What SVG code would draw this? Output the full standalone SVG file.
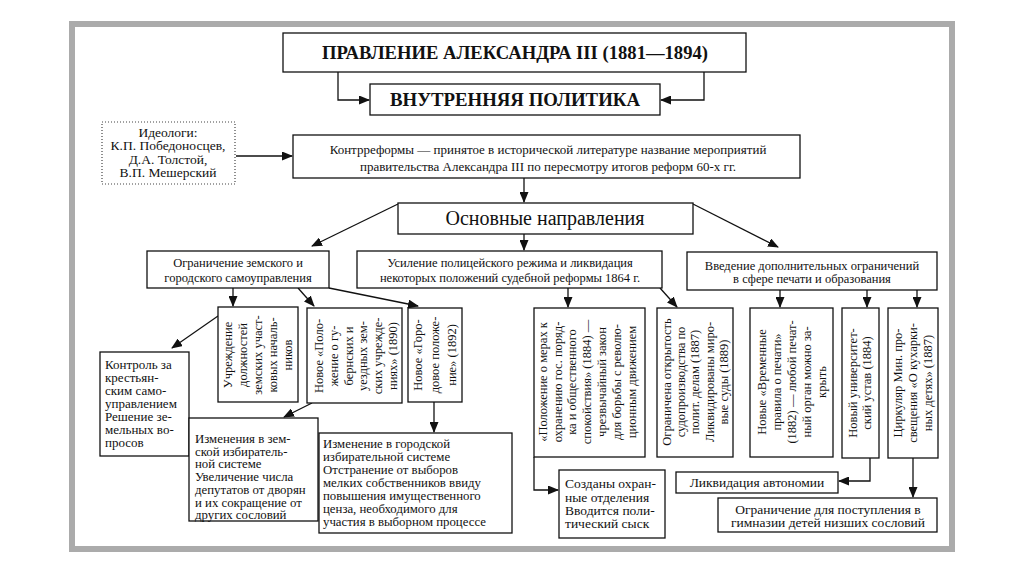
<svg xmlns="http://www.w3.org/2000/svg" width="1024" height="574" viewBox="0 0 1024 574">
<defs>
<marker id="ah" markerUnits="userSpaceOnUse" markerWidth="11" markerHeight="9" refX="10" refY="4.5" orient="auto">
<path d="M0,0 L11,4.5 L0,9 z" fill="#111"/>
</marker>
<style>
.box{fill:#fff;stroke:#111;stroke-width:1.3}
.dot{fill:#fff;stroke:#444;stroke-width:1.2;stroke-dasharray:1 2}
.t{font-family:"Liberation Serif","DejaVu Serif",serif;fill:#111;font-size:12.5px}
.c{text-anchor:middle}
.h{font-weight:bold;font-size:18px}
.b{font-size:13.5px}
.m{font-size:12.8px}
.ln{fill:none;stroke:#111;stroke-width:1.3;marker-end:url(#ah)}
</style>
</defs>
<rect x="0" y="0" width="1024" height="574" fill="#fff"/>
<rect x="72" y="24" width="880" height="525" fill="none" stroke="#ababab" stroke-width="6"/>

<g id="connectors">
<path class="ln" d="M338,72 V100 H369"/>
<path class="ln" d="M704,72 V100 H661"/>
<path class="ln" d="M236,156 H292"/>
<path class="ln" d="M524,178 V202"/>
<path class="ln" d="M398,204 L312,246"/>
<path class="ln" d="M524,234 V250"/>
<path class="ln" d="M693,204 L778,247"/>
<path class="ln" d="M233,288 V306"/>
<path class="ln" d="M298,288 L314,306"/>
<path class="ln" d="M329,288 L418,306"/>
<path class="ln" d="M568,288 V307"/>
<path class="ln" d="M660,288 L677,307"/>
<path class="ln" d="M780,290 V307"/>
<path class="ln" d="M867,290 V307"/>
<path class="ln" d="M917,290 V307"/>
<path class="ln" d="M218,316 L172,348"/>
<path class="ln" d="M312,403 L284,417"/>
<path class="ln" d="M434,402 V432"/>
<path class="ln" d="M534,457 V490 H558"/>
<path class="ln" d="M870,458 V481 H839"/>
<path class="ln" d="M913,458 V497"/>
</g>

<g id="title">
<rect class="box" x="283" y="33" width="463" height="39"/>
<text class="t c h" x="515" y="59" textLength="386" lengthAdjust="spacingAndGlyphs">ПРАВЛЕНИЕ АЛЕКСАНДРА III (1881—1894)</text>
</g>
<g id="inner">
<rect class="box" x="370" y="84" width="290" height="31"/>
<text class="t c h" x="515" y="106" textLength="250" lengthAdjust="spacingAndGlyphs">ВНУТРЕННЯЯ ПОЛИТИКА</text>
</g>
<g id="ideologs">
<rect class="dot" x="102" y="122" width="133" height="62"/>
<text class="t c b" x="168" y="137">Идеологи:</text>
<text class="t c b" x="168" y="150">К.П. Победоносцев,</text>
<text class="t c b" x="168" y="164">Д.А. Толстой,</text>
<text class="t c b" x="168" y="177">В.П. Мешерский</text>
</g>
<g id="counter">
<rect class="box" x="293" y="135" width="507" height="43"/>
<text class="t c" x="548" y="154" style="font-size:13px">Контрреформы — принятое в исторической литературе название мероприятий</text>
<text class="t c" x="548" y="171" style="font-size:13px">правительства Александра III по пересмотру итогов реформ 60-х гг.</text>
</g>
<g id="main">
<rect class="box" x="398" y="203" width="295" height="31"/>
<text class="t c" x="545" y="225" style="font-size:20px">Основные направления</text>
</g>
<g id="dir1">
<rect class="box" x="147" y="251" width="182" height="37"/>
<text class="t c" x="238" y="267">Ограничение земского и</text>
<text class="t c" x="238" y="282">городского самоуправления</text>
</g>
<g id="dir2">
<rect class="box" x="357" y="251" width="305" height="37"/>
<text class="t c" x="510" y="267">Усиление полицейского режима и ликвидация</text>
<text class="t c" x="510" y="282">некоторых положений судебной реформы 1864 г.</text>
</g>
<g id="dir3">
<rect class="box" x="687" y="252" width="250" height="38"/>
<text class="t c" x="812" y="270">Введение дополнительных ограничений</text>
<text class="t c" x="812" y="283">в сфере печати и образования</text>
</g>

<g id="v1">
<rect class="box" x="218" y="307" width="80" height="95"/>
<text class="t c" transform="translate(232,355) rotate(-90)">Учреждение</text>
<text class="t c" transform="translate(247,355) rotate(-90)">должностей</text>
<text class="t c" transform="translate(262,355) rotate(-90)">земских участ-</text>
<text class="t c" transform="translate(277,355) rotate(-90)">ковых началь-</text>
<text class="t c" transform="translate(292,355) rotate(-90)">ников</text>
</g>
<g id="v2">
<rect class="box" x="307" y="308" width="95" height="95"/>
<text class="t c" transform="translate(323,356) rotate(-90)">Новое «Поло-</text>
<text class="t c" transform="translate(338,356) rotate(-90)">жение о гу-</text>
<text class="t c" transform="translate(353,356) rotate(-90)">бернских и</text>
<text class="t c" transform="translate(367,356) rotate(-90)">уездных зем-</text>
<text class="t c" transform="translate(382,356) rotate(-90)">ских учрежде-</text>
<text class="t c" transform="translate(397,356) rotate(-90)">ниях» (1890)</text>
</g>
<g id="v3">
<rect class="box" x="408" y="308" width="54" height="94"/>
<text class="t c" transform="translate(422,355) rotate(-90)">Новое «Горо-</text>
<text class="t c" transform="translate(439,355) rotate(-90)">довое положе-</text>
<text class="t c" transform="translate(456,355) rotate(-90)">ние» (1892)</text>
</g>
<g id="v4">
<rect class="box" x="534" y="308" width="111" height="149"/>
<text class="t c" transform="translate(547,382) rotate(-90)">«Положение о мерах к</text>
<text class="t c" transform="translate(562,382) rotate(-90)">охранению гос. поряд-</text>
<text class="t c" transform="translate(576,382) rotate(-90)">ка и общественного</text>
<text class="t c" transform="translate(591,382) rotate(-90)">спокойствия» (1884) —</text>
<text class="t c" transform="translate(606,382) rotate(-90)">чрезвычайный закон</text>
<text class="t c" transform="translate(621,382) rotate(-90)">для борьбы с револю-</text>
<text class="t c" transform="translate(636,382) rotate(-90)">ционным движением</text>
</g>
<g id="v5">
<rect class="box" x="657" y="308" width="76" height="149"/>
<text class="t c" transform="translate(671,382) rotate(-90)">Ограничена открытость</text>
<text class="t c" transform="translate(685,382) rotate(-90)">судопроизводства по</text>
<text class="t c" transform="translate(699,382) rotate(-90)">полит. делам (1887)</text>
<text class="t c" transform="translate(714,382) rotate(-90)">Ликвидированы миро-</text>
<text class="t c" transform="translate(728,382) rotate(-90)">вые суды (1889)</text>
</g>
<g id="v6">
<rect class="box" x="750" y="308" width="83" height="149"/>
<text class="t c" transform="translate(766,382) rotate(-90)">Новые «Временные</text>
<text class="t c" transform="translate(781,382) rotate(-90)">правила о печати»</text>
<text class="t c" transform="translate(796,382) rotate(-90)">(1882) — любой печат-</text>
<text class="t c" transform="translate(811,382) rotate(-90)">ный орган можно за-</text>
<text class="t c" transform="translate(826,382) rotate(-90)">крыть</text>
</g>
<g id="v7">
<rect class="box" x="842" y="308" width="37" height="150"/>
<text class="t c" transform="translate(857,383) rotate(-90)">Новый университет-</text>
<text class="t c" transform="translate(871,383) rotate(-90)">ский устав (1884)</text>
</g>
<g id="v8">
<rect class="box" x="888" y="308" width="50" height="150"/>
<text class="t c" transform="translate(902,383) rotate(-90)">Циркуляр Мин. про-</text>
<text class="t c" transform="translate(917,383) rotate(-90)">свещения «О кухарки-</text>
<text class="t c" transform="translate(932,383) rotate(-90)">ных детях» (1887)</text>
</g>

<g id="r1">
<rect class="box" x="100" y="352" width="89" height="104"/>
<text class="t" x="105" y="369" style="font-size:13px">Контроль за</text>
<text class="t" x="105" y="382" style="font-size:13px">крестьян-</text>
<text class="t" x="105" y="395" style="font-size:13px">ским само-</text>
<text class="t" x="105" y="408" style="font-size:13px">управлением</text>
<text class="t" x="105" y="421" style="font-size:13px">Решение зе-</text>
<text class="t" x="105" y="434" style="font-size:13px">мельных во-</text>
<text class="t" x="105" y="447" style="font-size:13px">просов</text>
</g>
<g id="r2">
<rect class="box" x="189" y="418" width="129" height="103"/>
<text class="t m" x="195" y="443">Изменения в зем-</text>
<text class="t m" x="195" y="455.7">ской избиратель-</text>
<text class="t m" x="195" y="468.4">ной системе</text>
<text class="t m" x="195" y="481.1">Увеличение числа</text>
<text class="t m" x="195" y="493.8">депутатов от дворян</text>
<text class="t m" x="195" y="506.5">и их сокращение от</text>
<text class="t m" x="195" y="519.2">других сословий</text>
</g>
<g id="r3">
<rect class="box" x="319" y="433" width="193" height="100"/>
<text class="t m" x="323" y="448">Изменение в городской</text>
<text class="t m" x="323" y="461">избирательной системе</text>
<text class="t m" x="323" y="474">Отстранение от выборов</text>
<text class="t m" x="323" y="487">мелких собственников ввиду</text>
<text class="t m" x="323" y="500">повышения имущественного</text>
<text class="t m" x="323" y="513">ценза, необходимого для</text>
<text class="t m" x="323" y="526">участия в выборном процессе</text>
</g>
<g id="r4">
<rect class="box" x="559" y="470" width="106" height="68"/>
<text class="t b" x="565" y="488">Созданы охран-</text>
<text class="t b" x="565" y="502">ные отделения</text>
<text class="t b" x="565" y="515">Вводится поли-</text>
<text class="t b" x="565" y="528">тический сыск</text>
</g>
<g id="r5">
<rect class="box" x="676" y="472" width="162" height="21"/>
<text class="t c b" x="757" y="487">Ликвидация автономии</text>
</g>
<g id="r6">
<rect class="box" x="718" y="498" width="219" height="34"/>
<text class="t c b" x="828" y="514">Ограничение для поступления в</text>
<text class="t c b" x="828" y="527">гимназии детей низших сословий</text>
</g>
</svg>
